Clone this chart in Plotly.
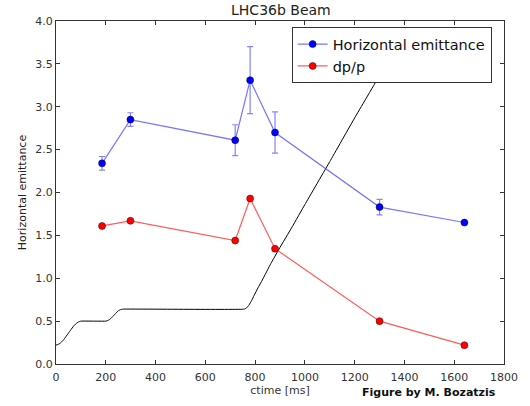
import plotly.graph_objects as go

# Measurement times [ms]
ctime = [185, 299, 720, 780, 880, 1300, 1641]

# Horizontal emittance with its errors
h_emit = [2.34, 2.85, 2.61, 3.31, 2.70, 1.83, 1.65]
h_emit_err = [0.08, 0.08, 0.18, 0.39, 0.24, 0.09, 0.0]

# Momentum spread
dpp = [1.61, 1.67, 1.44, 1.93, 1.345, 0.50, 0.22]

# Magnetic cycle (momentum programme) along the cycle
cycle_t = [0, 10, 20, 30, 40, 50, 60, 70, 80, 90, 100, 200, 210, 220, 230, 240, 250, 260, 270,
           756, 766, 776, 786, 796, 812, 829, 863, 896, 949, 1000, 1100, 1200, 1303, 1400]
cycle_v = [0.22, 0.23, 0.25, 0.28, 0.32, 0.36, 0.40, 0.44, 0.47, 0.49, 0.50, 0.50, 0.51, 0.53,
           0.56, 0.59, 0.62, 0.635, 0.64,
           0.64, 0.655, 0.69, 0.74, 0.80, 0.89, 0.98, 1.17, 1.34, 1.60, 1.86, 2.36, 2.87, 3.38, 3.87]

x_ticks = [0, 200, 400, 600, 800, 1000, 1200, 1400, 1600, 1800]
y_ticks = [0.0, 0.5, 1.0, 1.5, 2.0, 2.5, 3.0, 3.5, 4.0]

FONT = "DejaVu Sans"

fig = go.Figure()

fig.add_trace(go.Scatter(
    x=cycle_t, y=cycle_v, mode="lines", line=dict(color="black", width=1, shape="spline", smoothing=0.3),
    showlegend=False, hoverinfo="skip"))

fig.add_trace(go.Scatter(
    x=ctime, y=h_emit, mode="lines+markers", name="Horizontal emittance",
    line=dict(color="rgba(60,60,255,0.7)", width=1.2),
    marker=dict(color="#0000ff", size=7, line=dict(color="#000033", width=0.5)),
    error_y=dict(type="data", array=h_emit_err, visible=True, color="rgba(80,80,255,0.7)",
                 thickness=1.2, width=3)))

fig.add_trace(go.Scatter(
    x=ctime, y=dpp, mode="lines+markers", name="dp/p",
    line=dict(color="rgba(255,50,50,0.8)", width=1.2),
    marker=dict(color="#ff0000", size=7, line=dict(color="#330000", width=0.5))))

axis_common = dict(
    showgrid=False, zeroline=False, showline=True, linecolor="#333333", linewidth=1,
    mirror="ticks", ticks="inside", ticklen=4, tickcolor="#333333",
    tickfont=dict(family=FONT, size=11, color="#333333"))

fig.update_xaxes(range=[0, 1800], tickvals=x_ticks, ticktext=[str(v) for v in x_ticks],
                 ticklabelstandoff=3,
                 title=dict(text="ctime [ms]", font=dict(family=FONT, size=11, color="#333333"), standoff=2),
                 **axis_common)
fig.update_yaxes(range=[0, 4], tickvals=y_ticks, ticktext=[f"{v:.1f}" for v in y_ticks],
                 title=dict(text="Horizontal emittance", font=dict(family=FONT, size=11, color="#222222"), standoff=6),
                 **axis_common)

fig.update_layout(
    width=530, height=406,
    margin=dict(l=56, r=24, t=21, b=37),
    paper_bgcolor="white", plot_bgcolor="white",
    title=dict(text="LHC36b Beam", x=0.53, xanchor="center", y=0.975, yanchor="middle",
               font=dict(family=FONT, size=14, color="#222222")),
    legend=dict(x=0.526, y=0.982, xanchor="left", yanchor="top",
                bgcolor="white", bordercolor="#333333", borderwidth=1,
                font=dict(family=FONT, size=14.5, color="#111111"),
                itemwidth=30, tracegroupgap=0),
    annotations=[dict(text="<b>Figure by M. Bozatzis</b>", xref="paper", yref="paper",
                      x=(500 - 56) / 450, y=-(398 - 369) / 348, xanchor="right", yanchor="middle",
                      showarrow=False, font=dict(family=FONT, size=11, color="#111111"))],
)

fig.write_html("out.html")
